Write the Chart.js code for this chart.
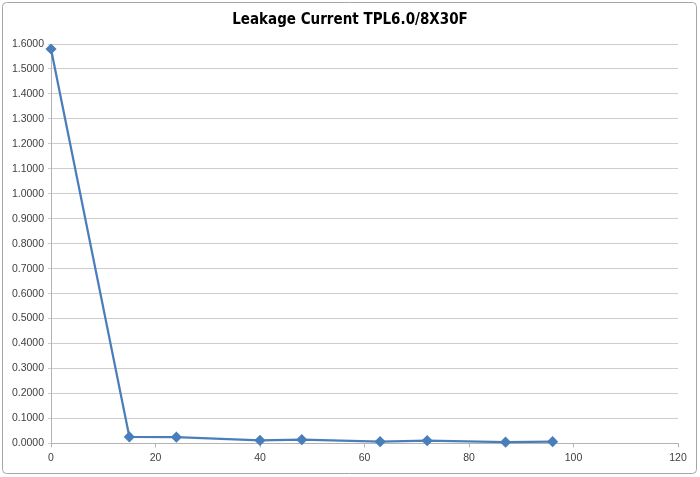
<!DOCTYPE html>
<html>
<head>
<meta charset="utf-8">
<script src="https://cdn.jsdelivr.net/npm/chart.js@4"></script>
<style>
  html, body { margin: 0; padding: 0; background: #fff; }
  #wrap { width: 700px; height: 477px; position: relative; }
</style>
</head>
<body>
<div id="wrap"><canvas id="leak"></canvas></div>
<script>
const hours = [0, 15, 24, 40, 48, 63, 72, 87, 96];
const current = [1.58, 0.026, 0.025, 0.012, 0.015, 0.007, 0.011, 0.005, 0.007];
const xTicks = [0, 20, 40, 60, 80, 100, 120];
const yMax = 1.6;

const frame = {
  id: 'frame',
  afterDraw(chart) {
    const c = chart.ctx;
    c.save();
    c.strokeStyle = '#a6a6a6';
    c.lineWidth = 1;
    c.beginPath();
    c.roundRect(2.5, 2.5, 694, 471, 4);
    c.stroke();
    c.restore();
  }
};

const ctx = document.getElementById('leak').getContext('2d');
new Chart(ctx, {
  type: 'scatter',
  data: {
    datasets: [{
      label: 'Leakage',
      data: hours.map((h, i) => ({ x: h, y: current[i] })),
      showLine: true,
      clip: false,
      borderColor: '#4a7ebb',
      backgroundColor: '#4a7ebb',
      borderWidth: 2.25,
      pointStyle: 'rectRot',
      pointRadius: 4,
      pointHoverRadius: 4,
      tension: 0
    }]
  },
  options: {
    responsive: true,
    maintainAspectRatio: false,
    animation: false,
    layout: { padding: { left: 0, right: 0, top: 0, bottom: 9 } },
    plugins: {
      legend: { display: false },
      tooltip: { enabled: false },
      title: {
        display: true,
        text: 'Leakage Current TPL6.0/8X30F',
        font: { family: 'DejaVu Sans Condensed, DejaVu Sans', size: 15, weight: 'bold' },
        color: '#000',
        padding: { top: 11, bottom: 15 }
      }
    },
    scales: {
      x: {
        type: 'linear',
        min: 0,
        max: 120,
        afterBuildTicks: s => { s.ticks = xTicks.map(v => ({ value: v })); },
        grid: { display: true, drawOnChartArea: false, drawTicks: true, tickLength: 4, color: '#b4b4b4' },
        border: { display: true, color: '#b4b4b4' },
        ticks: { color: '#404040', font: { family: 'Liberation Sans', size: 10.5 }, padding: 4, maxRotation: 0 }
      },
      y: {
        min: 0,
        max: yMax,
        afterFit: s => { s.width = 51; },
        grid: { color: '#cdcdcd', tickLength: 3, drawTicks: true },
        border: { display: true, color: '#b4b4b4' },
        ticks: {
          stepSize: 0.1,
          color: '#404040',
          font: { family: 'Liberation Sans', size: 10.5 },
          padding: 4,
          callback: v => v.toFixed(4)
        }
      },
      yRight: {
        position: 'right',
        display: true,
        afterFit: s => { s.width = 22; },
        grid: { display: false },
        border: { display: false },
        ticks: { display: false }
      }
    }
  },
  plugins: [frame]
});
</script>
</body>
</html>
